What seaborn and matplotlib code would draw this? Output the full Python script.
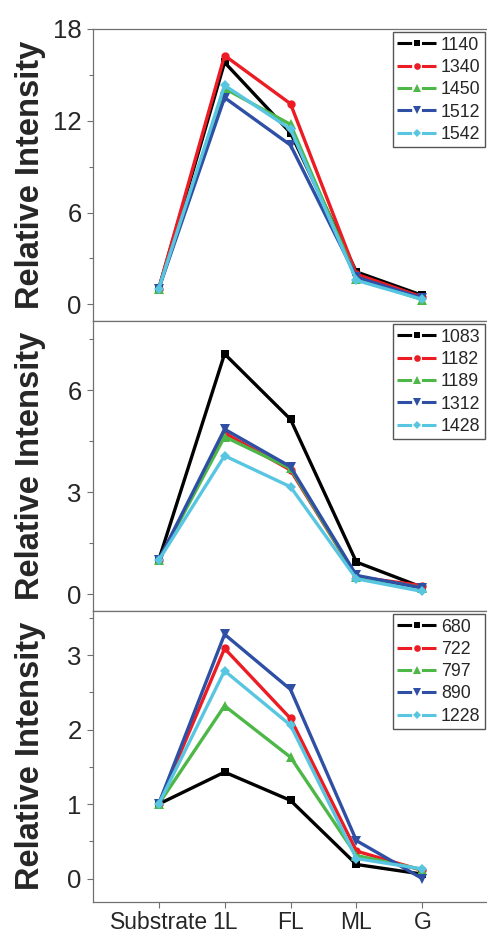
import numpy as np
import pandas as pd
import seaborn as sns
import matplotlib.pyplot as plt
from matplotlib.lines import Line2D

sns.set_style('ticks')
plt.rcParams['font.family'] = ['Liberation Sans', 'DejaVu Sans']

stages = ['Substrate', '1L', 'FL', 'ML', 'G']

# top panel
bands_top = ['1140', '1340', '1450', '1512', '1542']
top_1140 = [1.0, 15.8, 11.2, 2.12, 0.59]
top_1340 = [1.0, 16.25, 13.1, 1.97, 0.48]
top_1450 = [1.0, 14.1, 11.75, 1.69, 0.31]
top_1512 = [1.0, 13.5, 10.4, 1.79, 0.40]
top_1542 = [1.0, 14.3, 11.45, 1.57, 0.33]

# middle panel
bands_mid = ['1083', '1182', '1189', '1312', '1428']
mid_1083 = [1.0, 7.06, 5.14, 0.95, 0.21]
mid_1182 = [1.0, 4.74, 3.65, 0.52, 0.26]
mid_1189 = [1.0, 4.63, 3.70, 0.52, 0.20]
mid_1312 = [1.0, 4.85, 3.75, 0.56, 0.19]
mid_1428 = [1.0, 4.07, 3.16, 0.46, 0.09]

# bottom panel
bands_bot = ['680', '722', '797', '890', '1228']
bot_680 = [1.0, 1.43, 1.05, 0.19, 0.06]
bot_722 = [1.0, 3.09, 2.15, 0.37, 0.11]
bot_797 = [1.0, 2.32, 1.63, 0.31, 0.12]
bot_890 = [1.0, 3.28, 2.54, 0.51, 0.0]
bot_1228 = [1.0, 2.79, 2.06, 0.27, 0.13]

colors = ['#000000', '#ec1c24', '#4db848', '#2e4fa3', '#58c6e0']
markers = ['s', 'o', '^', 'v', 'D']
msizes = [5.5, 6, 7, 7, 5.5]

panels = [
    (bands_top, [top_1140, top_1340, top_1450, top_1512, top_1542], (-1.05, 18), [0, 6, 12, 18], 3),
    (bands_mid, [mid_1083, mid_1182, mid_1189, mid_1312, mid_1428], (-0.47, 8.04), [0, 3, 6], 1.5),
    (bands_bot, [bot_680, bot_722, bot_797, bot_890, bot_1228], (-0.31, 3.6), [0, 1, 2, 3], 0.5),
]

fig = plt.figure(figsize=(4.87, 9.33), dpi=100)
W, H = 487, 933
left, right = 92.7, 488.3
edges = [28.7, 320.5, 610.5, 901.7]
spine_c = '#707070'

pos = np.arange(len(stages))

for i, (bands, series, ylim, yticks, minor) in enumerate(panels):
    top, bot = edges[i], edges[i + 1]
    ax = fig.add_axes([left / W, 1 - bot / H, (right - left) / W, (bot - top) / H])
    for j, vals in enumerate(series):
        df = pd.DataFrame({'pos': pos, 'value': vals})
        sns.lineplot(data=df, x='pos', y='value', ax=ax, color=colors[j],
                     marker=markers[j], markersize=msizes[j], markeredgewidth=0,
                     linewidth=2.4, sort=False, legend=False)
    ax.set_xlim(-1, 5)
    ax.set_ylim(*ylim)
    ax.set_yticks(yticks)
    ax.set_yticks(np.arange(0, ylim[1], minor), minor=True)
    ax.tick_params(axis='y', which='major', direction='out', length=4.5, width=0.8,
                   color=spine_c, labelsize=18.5, pad=3.5)
    ax.tick_params(axis='y', which='minor', direction='out', length=3, width=0.8, color=spine_c)
    for s in ax.spines.values():
        s.set_color(spine_c)
        s.set_linewidth(0.9)
    ax.set_xticks(pos)
    if i < 2:
        ax.tick_params(axis='x', which='both', bottom=False, labelbottom=False)
    else:
        ax.set_xticklabels(stages)
        ax.tick_params(axis='x', direction='out', length=4.5, width=0.8,
                       color=spine_c, labelsize=16.5, pad=2.5)
    ax.set_xlabel('')
    ax.set_ylabel('Relative Intensity', fontsize=23.5, fontweight='bold')
    ax.yaxis.set_label_coords(-0.118, 0.5)
    # legend handles: line broken around the marker
    handles = [Line2D([], [], color=colors[j], marker=markers[j], markersize=msizes[j] * 0.8,
                      markeredgewidth=0, linewidth=2.2, dashes=(4.8, 3.2, 6, 20))
               for j in range(len(bands))]
    leg = ax.legend(handles, bands, loc='upper right', bbox_to_anchor=(1.0, 1.0),
                    fontsize=12.8, handlelength=2.2, handletextpad=0.25, labelspacing=0.3,
                    borderpad=0.25, borderaxespad=0.2, fancybox=False, framealpha=1)
    leg.get_frame().set_edgecolor('#555555')
    leg.get_frame().set_linewidth(1.0)

fig.savefig('out.png', dpi=100)
